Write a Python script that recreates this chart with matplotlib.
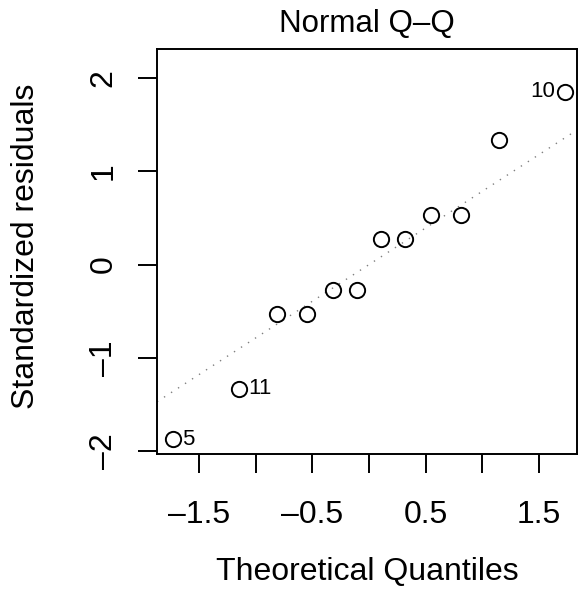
#!/usr/bin/env python3

from matplotlib import pyplot as plt
from statistics import NormalDist
import numpy as np

plt.rcParams['font.family'] = ['Liberation Sans', 'DejaVu Sans']

# データ
theo_q = [-1.732, -1.150, -0.812, -0.549, -0.319, -0.104,
          0.104, 0.319, 0.549, 0.812, 1.150, 1.732]
std_resid = [-1.87, -1.33, -0.53, -0.53, -0.27, -0.27,
             0.27, 0.27, 0.53, 0.53, 1.33, 1.85]
point_ids = {0: '5', 1: '11', 11: '10'}

xticks = [-1.5, -1.0, -0.5, 0.0, 0.5, 1.0, 1.5]
xticklabels = ['\u20131.5', '', '\u20130.5', '', '0.5', '', '1.5']
yticks = [-2, -1, 0, 1, 2]
yticklabels = ['\u20132', '\u20131', '0', '1', '2']

W, H = 581, 603
fig = plt.figure(figsize=(W / 100, H / 100), dpi=100)
# 軸の位置 (ピクセル -> 図の比率)
left, right, top, bottom = 157, 577, 49, 454
ax = fig.add_axes([left / W, 1 - bottom / H, (right - left) / W, (bottom - top) / H])

# qqline: 四分位点を通る直線
nd = NormalDist()
y25, y75 = np.percentile(std_resid, [25, 75])
x25, x75 = nd.inv_cdf(0.25), nd.inv_cdf(0.75)
slope = (y75 - y25) / (x75 - x25)
icpt = y25 - slope * x25
ax.axline((0, icpt), slope=slope, color='gray', lw=1, ls=(0, (1, 5)))

ax.plot(theo_q, std_resid, 'o', mfc='none', mec='black', ms=11, mew=1.4)

for i, lab in point_ids.items():
    if theo_q[i] < 0:
        ax.annotate(lab, (theo_q[i], std_resid[i]), xytext=(7, 0),
                    textcoords='offset points', ha='left', va='center', fontsize=16)
    else:
        ax.annotate(lab, (theo_q[i], std_resid[i]), xytext=(-7, 0),
                    textcoords='offset points', ha='right', va='center', fontsize=16)

ax.set_xlim(-1.871, 1.835)
ax.set_ylim(-2.03, 2.31)

ax.set_xticks(xticks)
ax.set_xticklabels(xticklabels)
ax.set_yticks(yticks)
ax.set_yticklabels(yticklabels, rotation=90, va='center')
ax.tick_params(axis='both', length=13.5, width=1.4, labelsize=23)
ax.tick_params(axis='x', pad=19.5)
ax.tick_params(axis='y', pad=14)

for sp in ax.spines.values():
    sp.set_linewidth(1.4)

ax.set_title('Normal Q\u2013Q', fontsize=22.5, pad=12)
ax.set_xlabel('Theoretical Quantiles', fontsize=23)
ax.xaxis.set_label_coords(0.5, -(572 - bottom) / (bottom - top))
ax.xaxis.label.set_va('center')
ax.set_ylabel('Standardized residuals', fontsize=23)
ax.yaxis.set_label_coords(-(left - 26) / (right - left), (bottom - 246) / (bottom - top))
ax.yaxis.label.set_va('center')

plt.savefig('out.png', dpi=100)
